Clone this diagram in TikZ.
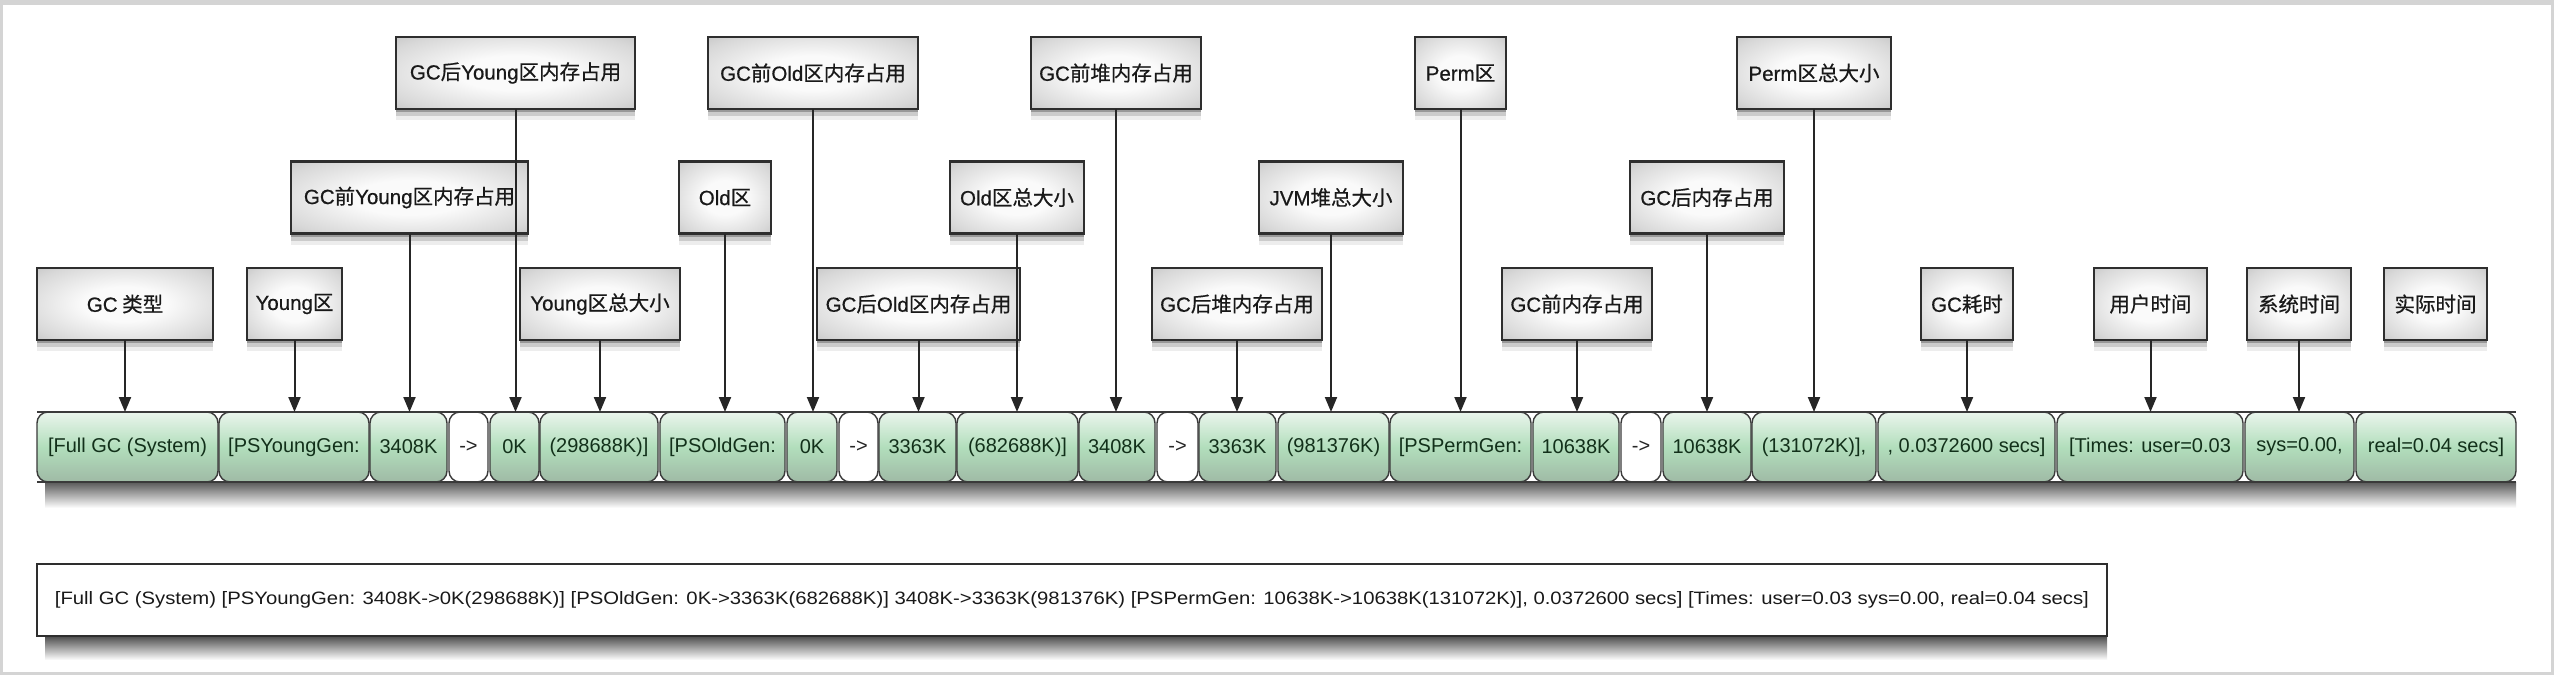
\documentclass[tikz,border=0pt]{standalone}
\usepackage{fontspec}
\setmainfont{Liberation Sans}
\newfontfamily\cjk[FakeBold=0.6]{Noto Sans CJK SC}
\newfontfamily\lat[FakeBold=0.6]{Liberation Sans}
\usetikzlibrary{arrows.meta,shadows}
\definecolor{segtop}{HTML}{EAF5EC}
\definecolor{segmid}{HTML}{B2DEBC}
\definecolor{segbot}{HTML}{9FBAA5}
\definecolor{segtext}{HTML}{12301A}
\definecolor{segline}{HTML}{3A3A3A}
\definecolor{lblout}{HTML}{A4A4A4}
\definecolor{lblmid}{HTML}{D8D8D8}
\definecolor{lblin}{HTML}{FAFAFA}
\definecolor{lblline}{HTML}{2E2E2E}
\definecolor{framegray}{HTML}{D4D4D4}
\pgfdeclareradialshading{lblshade}{\pgfpoint{0bp}{0bp}}{color(0bp)=(lblin); color(12bp)=(lblin); color(30bp)=(lblmid); color(50bp)=(lblout)}
\tikzset{
  lbl/.style={draw=lblline, line width=2.4pt, inner sep=0pt, outer sep=0pt,
    shading=lblshade, text=black!90,
    font=\cjk\fontsize{20.5}{24}\selectfont,
    drop shadow={shadow xshift=0pt, shadow yshift=-3pt, opacity=.25, fill=black},
    drop shadow={shadow xshift=0pt, shadow yshift=-7pt, opacity=.14, fill=black},
    drop shadow={shadow xshift=0pt, shadow yshift=-11pt, opacity=.07, fill=black}},
  segbox/.style={draw=segline, line width=1.4pt, rounded corners=11pt, inner sep=0pt,
    outer sep=0pt, minimum height=70pt, top color=segtop, bottom color=segbot,
    middle color=segmid, text=segtext, font=\fontsize{20}{24}\selectfont},
  arrbox/.style={segbox, top color=white, bottom color=white, middle color=white, text=black!85},
  conn/.style={draw=black!85, line width=2pt, -{Triangle[length=15pt,width=12pt]}},
}
\newcommand\lab[5]{\node[lbl, minimum width=#4pt, minimum height=72pt] (#1) at (#2,#3) {#5};}
\newcommand\segm[5]{\node[#1, minimum width=#4pt] (#2) at (#3,447) {#5};}
\begin{document}
\begin{tikzpicture}[x=1pt,y=-1pt]
\useasboundingbox (0,0) rectangle (2554,675);
\fill[framegray] (0,0) rectangle (2554,675);
\fill[white] (3,5) rectangle (2551,672);
% labels row A
\lab{lGCAY}{515.5}{73}{239}{{\lat GC}后{\lat Young}区内存占用}
\lab{lGCBO}{813}{73}{210}{{\lat GC}前{\lat Old}区内存占用}
\lab{lGCBH}{1116}{73}{170}{{\lat GC}前堆内存占用}
\lab{lPerm}{1460.5}{73}{91}{{\lat Perm}区}
\lab{lPermT}{1814}{73}{154}{{\lat Perm}区总大小}
% row B
\lab{lGCBY}{409.5}{197.5}{237}{{\lat GC}前{\lat Young}区内存占用}
\lab{lOld}{725}{197.5}{92}{{\lat Old}区}
\lab{lOldT}{1017}{197.5}{134}{{\lat Old}区总大小}
\lab{lJVM}{1331}{197.5}{144}{{\lat JVM}堆总大小}
\lab{lGCA}{1707}{197.5}{154}{{\lat GC}后内存占用}
% row C
\lab{lType}{125}{304}{176}{{\lat GC} 类型}
\lab{lYoung}{294.5}{304}{95}{{\lat Young}区}
\lab{lYoungT}{600}{304}{160}{{\lat Young}区总大小}
\lab{lGCAO}{918.5}{304}{203}{{\lat GC}后{\lat Old}区内存占用}
\lab{lGCAH}{1237}{304}{170}{{\lat GC}后堆内存占用}
\lab{lGCBP}{1577}{304}{150}{{\lat GC}前内存占用}
\lab{lTime}{1967}{304}{92}{{\lat GC}耗时}
\lab{lUser}{2150.5}{304}{113}{用户时间}
\lab{lSys}{2299}{304}{104}{系统时间}
\lab{lReal}{2435.5}{304}{103}{实际时间}
% bar shadow
\shade[top color=black!65, bottom color=white] (45,482) rectangle (2516,508);
% segments
\segm{segbox}{s1}{127.5}{181}{[Full GC (System)}
\segm{segbox}{s2}{294}{150}{[PSYoungGen:}
\segm{segbox}{s3}{408.5}{77}{3408K}
\segm{arrbox}{s4}{468.5}{39}{->}
\segm{segbox}{s5}{514.5}{49}{0K}
\segm{segbox}{s6}{599}{118}{(298688K)]}
\segm{segbox}{s7}{722.5}{125}{[PSOldGen:}
\segm{segbox}{s8}{812}{50}{0K}
\segm{arrbox}{s9}{858.5}{39}{->}
\segm{segbox}{s10}{917.5}{77}{3363K}
\segm{segbox}{s11}{1017.5}{121}{(682688K)]}
\segm{segbox}{s12}{1117}{76}{3408K}
\segm{arrbox}{s13}{1177.5}{41}{->}
\segm{segbox}{s14}{1237.5}{77}{3363K}
\segm{segbox}{s15}{1333.5}{111}{(981376K)}
\segm{segbox}{s16}{1460.5}{141}{[PSPermGen:}
\segm{segbox}{s17}{1576}{86}{10638K}
\segm{arrbox}{s18}{1641}{40}{->}
\segm{segbox}{s19}{1707}{88}{10638K}
\segm{segbox}{s20}{1814}{124}{(131072K)],}
\segm{segbox}{s21}{1966.5}{177}{, 0.0372600 secs]}
\segm{segbox}{s22}{2150}{186}{[Times: user=0.03}
\segm{segbox}{s23}{2299.5}{109}{sys=0.00,}
\segm{segbox}{s24}{2436}{160}{real=0.04 secs]}
\draw[segline, line width=1.8pt] (s1.north west) -- (s24.north east);
\draw[segline, line width=1.8pt] (s1.south west) -- (s24.south east);
% connectors
\draw[conn] (lType.south) -- (lType.south |- s1.north);
\draw[conn] (lYoung.south) -- (lYoung.south |- s2.north);
\draw[conn] (lGCBY.south) -- (lGCBY.south |- s3.north);
\draw[conn] (lGCAY.south) -- (lGCAY.south |- s5.north);
\draw[conn] (lYoungT.south) -- (lYoungT.south |- s6.north);
\draw[conn] (lOld.south) -- (lOld.south |- s7.north);
\draw[conn] (lGCBO.south) -- (lGCBO.south |- s8.north);
\draw[conn] (lGCAO.south) -- (lGCAO.south |- s10.north);
\draw[conn] (lOldT.south) -- (lOldT.south |- s11.north);
\draw[conn] (lGCBH.south) -- (lGCBH.south |- s12.north);
\draw[conn] (lGCAH.south) -- (lGCAH.south |- s14.north);
\draw[conn] (lJVM.south) -- (lJVM.south |- s15.north);
\draw[conn] (lPerm.south) -- (lPerm.south |- s16.north);
\draw[conn] (lGCBP.south) -- (lGCBP.south |- s17.north);
\draw[conn] (lGCA.south) -- (lGCA.south |- s19.north);
\draw[conn] (lPermT.south) -- (lPermT.south |- s20.north);
\draw[conn] (lTime.south) -- (lTime.south |- s21.north);
\draw[conn] (lUser.south) -- (lUser.south |- s22.north);
\draw[conn] (lSys.south) -- (lSys.south |- s23.north);
% bottom text box
\shade[top color=black!70, bottom color=white] (45,636) rectangle (2107,660);
\node[draw=lblline, line width=2.4pt, fill=white, inner sep=0pt, minimum width=2070pt, minimum height=72pt, text=black!90] (full) at (1072,600)
 {\resizebox{2034pt}{13pt}{[Full GC (System) [PSYoungGen: 3408K->0K(298688K)] [PSOldGen: 0K->3363K(682688K)] 3408K->3363K(981376K) [PSPermGen: 10638K->10638K(131072K)], 0.0372600 secs] [Times: user=0.03 sys=0.00, real=0.04 secs]}};
\end{tikzpicture}
\end{document}
